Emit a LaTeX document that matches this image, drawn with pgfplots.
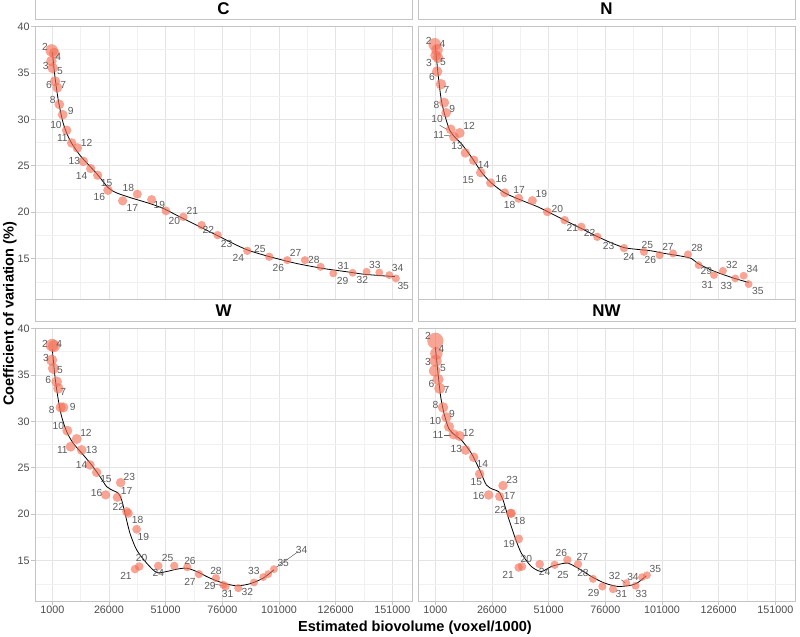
\documentclass[border=0pt]{standalone}
\usepackage{fontspec}
\setmainfont{Liberation Sans}
\usepackage{pgfplots}
\usepackage{pgfplotstable}
\pgfplotsset{compat=1.18}
\definecolor{ptcol}{HTML}{F46E55}
\definecolor{labcol}{HTML}{5C5C5C}
\definecolor{bcol}{HTML}{C4C4C4}
\definecolor{gmaj}{HTML}{E4E4E4}
\definecolor{gmin}{HTML}{F1F1F1}
\definecolor{tickcol}{HTML}{4D4D4D}

% ---------- C ----------
\pgfplotstableread{
x y r
722 37.42 5.2
1897 37.13 4.6
600 36.27 4.4
1162 35.52 4.4
2191 34.09 4.3
3220 33.41 4.2
4102 31.61 4.1
5572 30.50 4.1
7336 28.82 4.0
9541 27.46 4.0
12040 26.92 4.0
14686 25.48 4.0
17920 24.70 3.9
21007 23.98 3.9
25564 22.37 4.0
32032 21.22 3.9
38500 21.94 3.8
44821 21.36 3.8
51142 20.14 3.7
58786 19.50 3.6
66871 18.60 3.6
73927 17.53 3.5
87010 15.84 3.5
96712 15.20 3.5
104650 14.84 3.4
112441 14.84 3.4
119350 14.12 3.4
124936 13.41 3.3
133462 13.48 3.3
139636 13.59 3.3
145222 13.51 3.3
149632 13.23 3.3
152572 12.87 3.3
}\Cpts
\pgfplotstableread{
x y l
-2219 37.85 2
3661 36.70 4
-1925 35.70 3
4396 35.20 5
-455 33.66 6
5866 33.66 7
1162 32.10 8
9100 30.90 9
2632 29.35 10
5425 27.99 11
16156 27.45 12
10717 25.48 13
13951 23.90 14
24976 23.15 15
21742 21.65 16
36295 20.50 17
34531 22.62 18
48202 20.75 19
54817 19.07 20
62755 20.14 21
69811 18.06 22
77896 16.56 23
83041 15.13 24
92596 15.99 25
100681 14.01 26
108325 15.66 27
116410 14.91 28
129052 12.62 29
129346 14.23 31
137725 12.69 32
143311 14.30 33
153307 14.01 34
155806 12.04 35
}\Clab
\pgfplotstableread{
x y
1015 37.24
2191 34.55
3661 32.04
5866 29.53
8806 27.74
13216 26.13
20566 24.16
25711 22.62
29386 22.08
35266 21.58
44086 20.93
49966 20.40
55846 19.68
64666 18.60
73486 17.53
82306 16.45
88186 15.84
97006 15.20
108766 14.48
120526 13.94
130816 13.59
138166 13.33
146986 13.15
152131 13.08
}\Cline

% ---------- N ----------
\pgfplotstableread{
x y r
730 38.07 5.3
1759 37.49 4.8
1171 36.88 4.6
2200 36.63 4.5
1800 35.15 4.4
3500 33.78 4.4
4900 31.80 4.2
5800 30.70 4.1
7786 28.92 4.1
9256 28.10 4.1
11755 28.53 4.2
14254 26.38 4.0
17929 25.59 4.0
21016 24.26 4.0
25426 23.15 3.9
31600 22.08 3.8
37774 21.50 3.8
43801 21.25 3.8
50416 20.04 3.7
58060 19.14 3.6
65410 18.42 3.6
72466 17.35 3.5
84226 16.13 3.5
93046 15.74 3.5
99955 15.38 3.4
105835 15.56 3.4
112450 15.45 3.4
117154 14.30 3.3
123916 13.23 3.3
127885 13.69 3.3
133324 12.87 3.3
137000 13.16 3.3
139204 12.26 3.3
}\Npts
\pgfplotstableread{
x y l
-1916 38.42 2
4111 38.14 4
-1769 36.06 3
4405 36.17 5
-446 34.55 6
5875 33.19 7
1465 31.58 8
8521 31.08 9
1759 30.00 10
2494 28.28 11
15871 29.25 12
10579 27.10 13
22339 25.05 14
15430 23.44 15
30130 23.62 16
37921 22.37 17
33805 20.75 18
47770 22.01 19
54826 20.40 20
61441 18.32 21
69085 17.82 22
77464 16.38 23
86431 15.20 24
94516 16.45 25
95839 14.84 26
103630 16.27 27
116419 16.16 28
120535 13.69 29
120976 12.15 31
131854 14.37 32
129355 12.08 33
140821 13.87 34
143320 11.51 35
}\Nlab
\pgfplotstableread{
x y
1024 37.96
2200 34.91
3670 32.04
5434 30.25
7345 28.82
9550 28.10
12490 27.38
16900 25.95
21310 24.34
25720 23.15
31600 22.08
38950 21.29
46300 20.57
52180 19.86
58060 19.14
65410 18.25
72760 17.35
78640 16.70
84520 16.17
90400 15.99
96280 15.84
102160 15.56
109510 15.27
113920 15.02
116860 14.48
122740 13.77
128620 13.23
134500 12.76
139204 12.44
}\Nline

% ---------- W ----------
\pgfplotstableread{
x y r
900 38.20 5.3
1750 38.10 5.0
721 36.59 4.7
1456 35.70 4.6
2926 34.26 4.5
3661 33.55 4.4
4690 31.50 4.3
5866 31.50 4.3
7630 28.99 4.2
11746 28.10 4.2
9100 27.27 4.2
13951 26.92 4.1
17626 25.30 4.0
20566 24.51 4.0
31150 23.40 4.0
24535 22.08 3.9
29680 21.82 3.9
33796 20.28 3.8
34531 20.10 3.8
38206 18.38 3.7
39367 14.37 3.6
37471 14.09 3.6
47746 14.44 3.6
54802 14.44 3.5
60535 14.30 3.5
65695 13.55 3.5
73192 13.12 3.4
76411 12.40 3.4
77469 12.22 3.4
83026 12.04 3.4
89950 12.65 3.3
94051 13.23 3.3
96256 13.55 3.3
98770 14.09 3.3
}\Wpts
\pgfplotstableread{
x y l
-2219 38.38 2
4102 38.38 4
-1778 36.77 3
4396 35.52 5
-749 34.44 6
5866 33.19 7
721 31.22 8
9982 31.50 9
3661 29.53 10
15862 28.71 12
5425 26.91 11
18361 26.91 13
13951 25.30 14
24682 23.80 15
34972 24.04 23
20566 22.25 16
33796 22.54 17
30121 20.75 22
38647 19.39 18
41146 17.52 19
40425 15.27 20
33502 13.37 21
47746 13.66 24
51891 15.27 25
61725 15.01 26
61725 12.75 27
73192 13.90 28
70546 12.29 29
78351 11.43 31
86999 11.68 32
89950 13.90 33
110985 16.16 34
102871 14.80 35
}\Wlab
\pgfplotstableread{
x y
1015 37.74
2191 34.80
3661 32.29
5131 30.50
7336 28.89
10276 27.63
14686 26.38
18361 25.30
22036 24.05
24976 22.97
27916 22.54
30121 22.26
31591 21.54
33061 20.10
35266 17.95
38206 16.16
42616 14.73
47026 13.72
51436 13.83
55846 14.08
60256 14.19
64666 13.83
70546 13.12
76426 12.58
82306 12.29
88186 12.51
94066 13.12
98770 14.01
}\Wline

% ---------- NW ----------
\pgfplotstableread{
x y r
1024 38.67 6.8
1465 37.31 5.2
1171 36.52 5.0
730 35.44 4.8
2200 34.51 4.7
2935 33.54 4.6
4405 31.50 4.4
5875 30.43 4.3
7051 29.42 4.3
9109 28.60 4.3
11755 28.42 4.3
14401 26.91 4.1
17929 26.13 4.0
20575 24.33 4.0
24544 22.07 4.0
29395 21.90 3.9
30865 23.08 4.0
34246 20.10 3.8
34540 20.10 3.8
37774 17.34 3.7
39244 14.37 3.6
37774 14.26 3.6
47035 14.62 3.6
53650 14.55 3.5
59236 15.09 3.5
63940 14.62 3.5
70555 13.04 3.4
74671 12.22 3.4
79375 11.93 3.4
85255 12.58 3.3
89371 12.29 3.3
92164 13.22 3.3
94369 13.43 3.3
}\NWpts
\pgfplotstableread{
x y l
-2210 39.17 2
3670 37.74 4
-2210 36.41 3
4405 35.77 5
-740 34.01 6
5875 33.37 7
1024 31.72 8
8374 30.79 9
1024 30.07 10
2200 28.53 11
15724 28.78 12
10285 26.99 13
21751 25.41 14
19105 23.51 15
20134 21.97 16
33805 21.97 17
29689 20.46 22
38215 19.32 18
33511 16.77 19
34834 23.69 23
41155 15.19 20
33070 13.47 21
49240 13.83 24
57325 13.47 25
56590 15.80 26
65851 15.37 27
66145 13.65 28
70849 11.50 29
83050 11.40 31
80110 13.37 32
91870 11.40 33
88195 13.22 34
98044 14.08 35
}\NWlab
\pgfplotstableread{
x y
1024 38.02
2200 35.16
3376 32.65
4846 30.86
6904 29.24
9550 28.53
12490 27.99
16900 26.56
20575 24.76
23515 23.15
26455 22.68
28954 22.43
30865 21.54
33070 19.75
36010 17.60
38950 15.80
43360 14.37
47770 13.83
52180 14.37
56590 14.66
59530 14.73
63940 14.19
69820 13.29
75700 12.58
81580 12.22
87460 12.36
90400 12.65
94075 13.37
}\NWline

\pgfplotsset{
  panel/.style={
    scale only axis, width=377bp, height=273.5bp,
    xmin=-6630, xmax=159670, ymin=10.6, ymax=40.05,
    scaled x ticks=false, scaled y ticks=false,
    xtick={1000,26000,51000,76000,101000,126000,151000},
    ytick={15,20,25,30,35,40},
    minor xtick={13500,38500,63500,88500,113500,138500},
    minor ytick={12.5,17.5,22.5,27.5,32.5,37.5},
    grid=both,
    major grid style={draw=gmaj, line width=0.6bp},
    minor grid style={draw=gmin, line width=0.45bp},
    axis line style={draw=bcol, line width=0.7bp},
    tick align=outside, tick pos=left,
    major tick length=3.5bp, minor tick length=0pt,
    every tick/.style={draw=bcol, line width=0.6bp},
    xticklabels={}, yticklabels={},
    ticklabel style={font=\fontsize{10.8}{10.8}\selectfont, text=tickcol},
    xticklabel style={inner sep=1.2bp},
    yticklabel style={inner sep=1.6bp},
    title style={at={(0.5,1)}, anchor=south, yshift=0.5bp, draw=bcol, line width=0.7bp,
      minimum width=377bp, minimum height=22bp, inner sep=0pt,
      font=\bfseries\fontsize{17}{17}\selectfont, text height=12.3bp, text depth=0pt},
  },
  xlab/.style={xticklabels={1000,26000,51000,76000,101000,126000,151000}},
  ylab/.style={yticklabels={15,20,25,30,35,40}},
  noxt/.style={xtick style={draw=none}},
  noyt/.style={ytick style={draw=none}},
  pts/.style={scatter, only marks, mark=*,
    scatter/use mapped color={draw=ptcol, fill=ptcol, fill opacity=0.62, draw opacity=0},
    visualization depends on={1.2*\thisrow{r} \as \prad},
    scatter/@pre marker code/.append style={/tikz/mark size=\prad}},
  labs/.style={draw=none, mark=none, nodes near coords, point meta=explicit symbolic,
    every node near coord/.append style={anchor=center, inner sep=0pt,
      font=\fontsize{10.3}{10.3}\selectfont, text=labcol}},
  sm/.style={black, line width=0.8bp, smooth, tension=0.45, mark=none},
  seg/.style={labcol, line width=0.5bp, mark=none},
}

\begin{document}
\begin{tikzpicture}
\useasboundingbox (0,0) rectangle (800bp,-637bp);

\begin{axis}[panel, ylab, noxt, title={C}, at={(35bp,-299.5bp)}, anchor=south west]
\addplot[pts] table[x=x,y=y] {\Cpts};
\addplot[sm] table[x=x,y=y] {\Cline};
\addplot[labs] table[x=x,y=y,meta=l] {\Clab};
\end{axis}

\begin{axis}[panel, noxt, noyt, title={N}, at={(418bp,-299.5bp)}, anchor=south west]
\addplot[pts] table[x=x,y=y] {\Npts};
\addplot[sm] table[x=x,y=y] {\Nline};
\addplot[seg] coordinates {(2935,29.36) (6316,28.89)};
\addplot[seg] coordinates {(4846,28.28) (8080,28.21)};
\addplot[labs] table[x=x,y=y,meta=l] {\Nlab};
\end{axis}

\begin{axis}[panel, xlab, ylab, title={W}, at={(35bp,-601.5bp)}, anchor=south west]
\addplot[pts] table[x=x,y=y] {\Wpts};
\addplot[sm] table[x=x,y=y] {\Wline};
\addplot[seg] coordinates {(72843,12.47) (75700,12.32)};
\addplot[seg] coordinates {(109485,15.98) (99960,14.30)};
\addplot[labs] table[x=x,y=y,meta=l] {\Wlab};
\end{axis}

\begin{axis}[panel, xlab, noyt, title={NW}, at={(418bp,-601.5bp)}, anchor=south west]
\addplot[pts] table[x=x,y=y] {\NWpts};
\addplot[sm] table[x=x,y=y] {\NWline};
\addplot[seg] coordinates {(4846,28.45) (8080,28.45)};
\addplot[seg] coordinates {(83050,12.94) (84814,12.58)};
\addplot[labs] table[x=x,y=y,meta=l] {\NWlab};
\end{axis}

\node[rotate=90, anchor=base, font=\bfseries\fontsize{14.6}{14.6}\selectfont] at (13.5bp,-313.7bp) {Coefficient of variation (\%)};
\node[anchor=base, font=\bfseries\fontsize{14.6}{14.6}\selectfont] at (415bp,-631bp) {Estimated biovolume (voxel/1000)};
\end{tikzpicture}
\end{document}
